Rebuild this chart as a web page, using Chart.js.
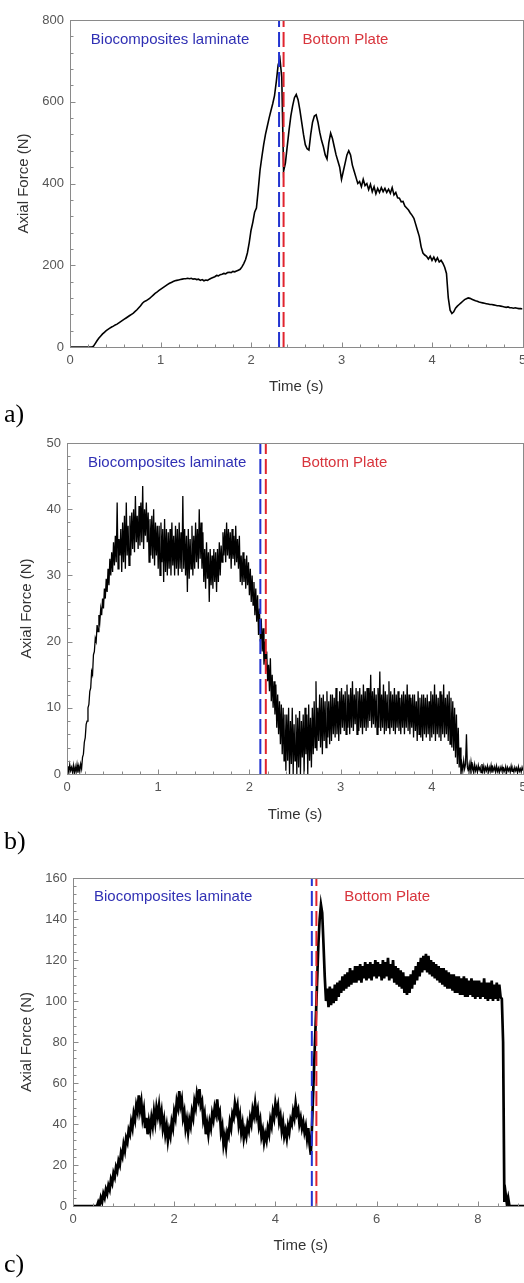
<!DOCTYPE html>
<html>
<head>
<meta charset="utf-8">
<title>Axial force vs time</title>
<script src="https://cdn.jsdelivr.net/npm/chart.js@4.4.1/dist/chart.umd.min.js"></script>
<style>
  html, body { margin: 0; padding: 0; background: #fff; overflow: hidden; }
  body { width: 524px; height: 1283px; position: relative; }
  canvas { position: absolute; left: 0; }
  .cap { position: absolute; left: 4px; font: 26px/26px "Liberation Serif", "Times New Roman", serif; color: #000; }
</style>
</head>
<body>
<canvas id="chart-a" width="525" height="400" style="top:0px"></canvas>
<canvas id="chart-b" width="525" height="400" style="top:425px"></canvas>
<canvas id="chart-c" width="530" height="400" style="top:860px"></canvas>
<div class="cap" style="top:401px">a)</div>
<div class="cap" style="top:828px">b)</div>
<div class="cap" style="top:1251px">c)</div>
<script>
// a) axial force (N), one sample every 0.02 s, 0 -> 5 s
const DT_A = 0.02;
const forceA = [
  0,0,0,0,0,0,0,0,0,0,
  0,0,0,2,9,16,22,27,32,36,
  40,43,46,49,51,54,56,59,62,65,
  68,71,74,77,80,83,87,91,96,101,
  107,111,113,116,119,123,127,131,134,138,
  141,144,147,150,153,156,158,160,162,163,
  164,165,166,167,167,168,167,168,166,167,
  165,166,163,165,162,164,163,166,168,170,
  172,175,174,177,178,180,179,182,183,182,
  185,184,186,188,190,196,204,214,230,255,
  285,305,330,340,385,433,465,495,520,540,
  560,578,595,615,650,690,705,660,430,450,
  490,530,565,590,610,618,605,580,550,520,
  495,485,482,520,550,565,568,550,525,505,
  490,470,460,500,523,510,490,470,455,440,
  410,430,450,470,480,470,445,430,415,400,
  405,392,410,395,400,385,398,380,392,375,
  388,378,390,380,388,378,386,376,390,372,
  378,365,364,355,356,345,340,335,328,322,
  315,300,285,270,245,230,225,222,215,222,
  212,220,210,218,208,212,205,195,180,120,
  90,82,86,95,100,104,108,112,116,118,
  120,119,117,115,113,112,110,109,108,107,
  106,105,104,104,103,102,101,101,100,99,
  98,97,98,96,96,95,96,95,94,94,
  93
];

// b) axial force (N), one sample every 0.01 s, 0 -> 5 s (noisy band read low/high)
const DT_B = 0.01;
const forceB = [
  0.4,1.2,0.2,1.4,0.5,1.0,0.3,1.3,0.1,1.1,
  0.3,1.4,0.2,1.2,0.4,1.5,0.8,2.5,3.0,4.8,
  5.5,7.5,8,10,10.5,12.5,13,15.5,15,18,
  18.5,20.5,20,22.5,21.5,24,23,25,24,26.5,
  25,28,26.5,29.5,27.5,31,28.5,32.5,30,33.5,
  30.5,35,31.5,36,32,41,31,35.5,33,37,
  30.5,38,32,39,31,41,33,37.5,31.5,39,
  33,39.5,34,40,33.5,42,35,39,34,40.5,
  34.5,41,35,43.5,34,40,36,41,35,39.5,
  32,38.5,33,39,32.5,40,31.5,38,33,37.5,
  31,37.5,30,38,32,37,29,38.5,30.5,37,
  30,36.5,31,37,30,38,31.5,36,30,37.5,
  31,37,30,38,31,36.5,30.5,42,31,37,
  30,36,27.5,37,29.5,35.5,31,37.5,30,36,
  31,38,32,37,31,40,32.5,38,31,36.5,
  29,34,28,35,29.5,33.5,26,34,28.5,33,
  28,34,29,33.5,27.5,34,29,35,30,34.5,
  32,36.5,33,37,32,38,33,37,32.5,36.5,
  31,37,32.5,36,31.5,37.5,32,35.5,31,36,
  29,33,28.5,33.5,29,32.5,28,33,28.5,32,
  27,31,26,30,25.5,29,24,28,23,27,
  21,25,20,23.5,18.5,22,16.5,20,15.5,18.5,
  14,16.5,12.5,17.5,11,15,10,14,9,13.5,
  7,12,6,11,4.5,10.5,3,10,2,9,
  0.5,9,2,10,0,8,1.5,10,0,7.5,
  2,9,0,8.5,1,9.5,0,8,2.5,9,
  0,10,3,9,0,10.5,2,8.5,1,10,
  3,11,4,14,3.5,10,5,12,4,11.5,
  3,12,5,11,4,12.5,5.5,11,4.5,12,
  5,12,6,11.5,5.5,13,6,11,5,12.5,
  6,13,7,12,6.5,12.5,6,13.5,7,12,
  6,13,7,14,6.5,12,7.5,13,6,12.5,
  6.5,13,7,12,6,13.5,7,12.5,6.5,13,
  7,13,8,15,7,12.5,7.5,13,7,12,
  6,13,7,15.5,6.5,12,7,13.5,6,12.5,
  6.5,12,7,14,6,12.5,7,12,6.5,13,
  6,12,7,12.5,6.5,11.5,6,12,7,12.5,
  6,12,7,13.5,6.5,12,6,11.5,7,12,
  5.5,12,6.5,11,5,12.5,6,11.5,5.5,12,
  5,12,6,11.5,5.5,12,6,11,5,12.5,
  5.5,12,6,13.5,5,12,6,11.5,5.5,12.5,
  5,12,6,13.5,5.5,11.5,6,12,5,12.5,
  4.5,11.5,4,11,3.5,10,2.5,9,1.5,7,
  1,4,0,1.5,0.5,2,0.8,1.5,6,1,
  0.5,1.5,0.3,1.8,0.6,1.2,0.2,1.4,0.5,1.1,
  0.3,1.3,0.6,1.0,0.2,1.5,0.4,1.2,0.3,1.0,
  0.5,1.2,0.3,1.0,0.4,1.3,0.2,1.0,0.5,1.1,
  0.3,1.2,0.4,0.9,0.2,1.0,0.5,1.1,0.3,0.8,
  0.4,1.1,0.2,1.0,0.5,0.9,0.3,1.2,0.4,0.8,
  0.3,1.0,0.5,0.9,0.2,1.1,0.4,0.8,0.3,1.0,
  0.5
];

// c) axial force (N), one sample every 0.025 s, 0 -> 9 s
const DT_C = 0.025;
const forceC = [
  0,0,0,0,0,0,0,0,
  0,0,0,0,0,0,0,0,
  0,0,0,0,2,0.5,4,2,
  6,4,8,6,10,8,13,11,
  16,14,19,17,22,20,26,24,
  30,27,33,31,37,35,41,38,
  45,42,49,46,54,47,51,43,
  47,38,43,35,41,37,43,39,
  46,41,48,44,49,42,46,38,
  42,35,39,32,37,34,41,38,
  46,43,51,48,56,49,52,43,
  46,38,42,36,42,39,46,43,
  51,48,55,52,57,49,51,42,
  45,35,40,35,41,38,45,42,
  48,45,52,44,46,36,39,30,
  34,29,36,34,41,38,45,43,
  50,46,49,40,44,36,40,33,
  37,34,40,37,43,40,47,44,
  50,44,47,39,42,34,37,31,
  35,32,38,35,42,39,46,43,
  50,46,49,41,44,37,41,34,
  37,33,39,36,42,40,46,43,
  50,45,47,40,43,38,41,36,
  39,33,38,30,25,40,58,75,
  92,110,128,140,147,143,128,112,
  100,106,97,107,98,106,99,108,
  100,109,102,110,104,112,105,113,
  106,114,107,116,108,115,109,117,
  109,117,110,118,109,117,111,119,
  110,118,111,119,110,118,112,120,
  111,119,112,118,110,120,111,119,
  112,121,110,118,111,120,109,117,
  108,116,107,115,106,114,104,112,
  103,112,104,113,106,115,108,117,
  110,119,112,121,114,122,115,123,
  114,122,113,120,112,119,111,118,
  110,117,109,116,108,116,107,115,
  106,114,106,113,105,113,104,112,
  104,112,103,111,103,112,102,111,
  102,110,103,111,102,110,101,110,
  102,110,101,109,102,111,101,109,
  100,109,101,110,100,108,101,109,
  100,108,102,101,80,2,6,1,
  4,0,0,0,0,0,0,0,
  0,0,0,0,0,0,0,0,
  0
];

// laminate end / bottom plate start (s)
const cutsA = [2.31, 2.36];
const cutsB = [2.12, 2.18];
const cutsC = [4.72, 4.81];

const xTicksA = [0, 1, 2, 3, 4, 5];
const yTicksA = [0, 200, 400, 600, 800];
const xTicksB = [0, 1, 2, 3, 4, 5];
const yTicksB = [0, 10, 20, 30, 40, 50];
const xTicksC = [0, 2, 4, 6, 8];
const yTicksC = [0, 20, 40, 60, 80, 100, 120, 140, 160];

const FONT = '"Liberation Sans", Arial, sans-serif';
const BLUE = '#2233d0';
const RED = '#e0242e';

function isMultiple(v, step) {
  const r = v / step;
  return Math.abs(r - Math.round(r)) < 1e-6;
}

// plot frame, inward major/minor ticks and the two region labels
const framePlugin = {
  id: 'frame',
  afterDatasetsDraw(chart, args, o) {
    const { ctx, chartArea: a, scales: { x, y } } = chart;
    ctx.save();
    ctx.strokeStyle = '#8a8a8a';
    ctx.lineWidth = 1;
    const L = Math.round(a.left) + 0.5, T = Math.round(a.top) + 0.5;
    const R = Math.round(a.right) + 0.5, B = Math.round(a.bottom) + 0.5;
    ctx.strokeRect(L, T, R - L, B - T);
    ctx.beginPath();
    for (let i = 0; i * o.xMinor <= x.max + 1e-9; i++) {
      const v = i * o.xMinor;
      const px = Math.round(x.getPixelForValue(v)) + 0.5;
      ctx.moveTo(px, B);
      ctx.lineTo(px, B - (isMultiple(v, o.xMajor) ? 5 : 3));
    }
    for (let i = 0; i * o.yMinor <= y.max + 1e-9; i++) {
      const v = i * o.yMinor;
      const py = Math.round(y.getPixelForValue(v)) + 0.5;
      ctx.moveTo(L, py);
      ctx.lineTo(L + (isMultiple(v, o.yMajor) ? 5 : 3), py);
    }
    ctx.stroke();

    ctx.font = '15px ' + FONT;
    ctx.textBaseline = 'middle';
    ctx.textAlign = 'left';
    o.labels.forEach(l => {
      ctx.fillStyle = l.color;
      ctx.fillText(l.text, x.getPixelForValue(l.x), y.getPixelForValue(l.y));
    });
    ctx.restore();
  }
};

function dashed(t, top, color) {
  return {
    data: [{ x: t, y: 0 }, { x: t, y: top }],
    borderColor: color,
    borderWidth: 2,
    borderDash: [15, 5],
    pointRadius: 0
  };
}

function buildChart(id, c) {
  const yMax = c.yTicks[c.yTicks.length - 1];
  return new Chart(document.getElementById(id), {
    type: 'line',
    data: {
      datasets: [
        dashed(c.cuts[0], yMax, BLUE),
        dashed(c.cuts[1], yMax, RED),
        {
          data: c.force.map((f, i) => ({ x: i * c.dt, y: f })),
          borderColor: '#000',
          borderWidth: c.lineWidth,
          pointRadius: 0,
          tension: 0
        }
      ]
    },
    options: {
      responsive: false,
      animation: false,
      devicePixelRatio: 1,
      layout: { padding: { top: c.padTop, right: c.padRight, left: 0, bottom: 0 } },
      plugins: {
        legend: { display: false },
        tooltip: { enabled: false },
        frame: {
          xMajor: c.xMajor, xMinor: c.xMinor, yMajor: c.yMajor, yMinor: c.yMinor,
          labels: [
            { text: 'Biocomposites laminate', color: '#3030b4', x: c.labelX[0], y: c.labelY },
            { text: 'Bottom Plate', color: '#d8343c', x: c.labelX[1], y: c.labelY }
          ]
        }
      },
      scales: {
        x: {
          type: 'linear',
          min: 0,
          max: c.xMax,
          grid: { display: false, drawTicks: false },
          border: { display: false },
          afterBuildTicks: s => { s.ticks = c.xTicks.map(v => ({ value: v })); },
          afterFit: s => { s.height = c.xAxisH; s.paddingLeft = 0; s.paddingRight = 0; },
          ticks: { padding: 6, color: '#555', font: { size: 13, family: FONT }, maxRotation: 0, autoSkip: false },
          title: {
            display: true, text: 'Time (s)', color: '#333',
            font: { size: 15, family: FONT }, padding: { top: 0, bottom: c.xTitlePad }
          }
        },
        y: {
          min: 0,
          max: yMax,
          grid: { display: false, drawTicks: false },
          border: { display: false },
          afterBuildTicks: s => { s.ticks = c.yTicks.map(v => ({ value: v })); },
          afterFit: s => { s.width = c.yAxisW; s.paddingTop = 0; s.paddingBottom = 0; },
          ticks: { padding: 6, color: '#555', font: { size: 13, family: FONT }, autoSkip: false },
          title: {
            display: true, text: 'Axial Force (N)', color: '#333',
            font: { size: 15, family: FONT }, padding: { top: c.yTitlePad, bottom: 0 }
          }
        }
      }
    },
    plugins: [framePlugin]
  });
}

buildChart('chart-a', {
  force: forceA, dt: DT_A, cuts: cutsA, xTicks: xTicksA, yTicks: yTicksA,
  xMax: 5, xMajor: 1, xMinor: 0.2, yMajor: 200, yMinor: 40, lineWidth: 1.6,
  padTop: 20, padRight: 2.5, xAxisH: 53, yAxisW: 70, xTitlePad: 4, yTitlePad: 15,
  labelX: [0.23, 2.57], labelY: 751
});

buildChart('chart-b', {
  force: forceB, dt: DT_B, cuts: cutsB, xTicks: xTicksB, yTicks: yTicksB,
  xMax: 5, xMajor: 1, xMinor: 0.2, yMajor: 10, yMinor: 2, lineWidth: 1.3,
  padTop: 18, padRight: 2, xAxisH: 51, yAxisW: 67, xTitlePad: 1, yTitlePad: 17.7,
  labelX: [0.23, 2.57], labelY: 47
});

buildChart('chart-c', {
  force: forceC, dt: DT_C, cuts: cutsC, xTicks: xTicksC, yTicks: yTicksC,
  xMax: 9, xMajor: 2, xMinor: 0.4, yMajor: 20, yMinor: 4, lineWidth: 2.7,
  padTop: 18, padRight: 1.6, xAxisH: 54, yAxisW: 73, xTitlePad: 5, yTitlePad: 17.7,
  labelX: [0.415, 5.36], labelY: 150.7
});
</script>
</body>
</html>
